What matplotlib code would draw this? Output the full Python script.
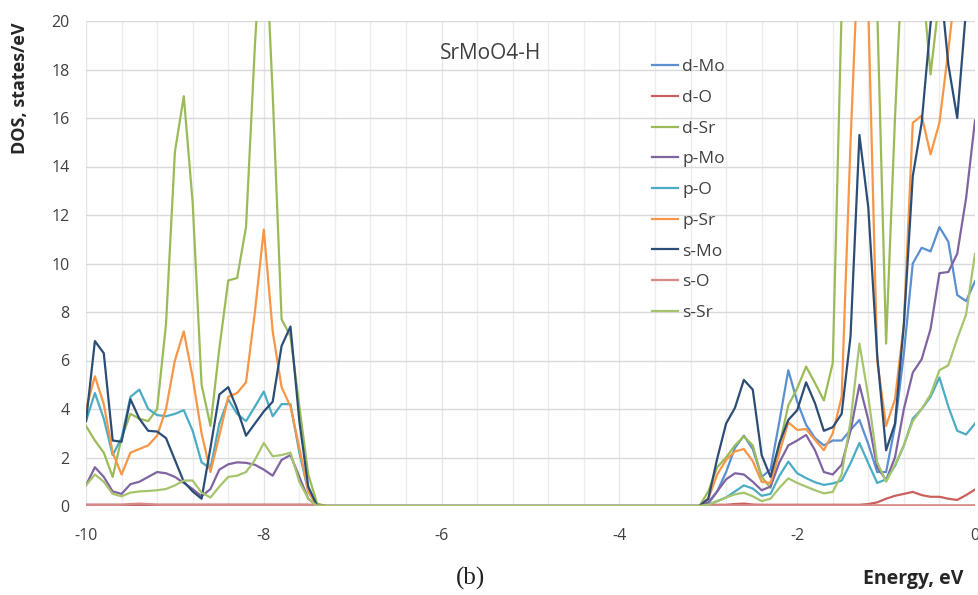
import numpy as np
import matplotlib
matplotlib.use("Agg")
import matplotlib.pyplot as plt

# Energy grid (eV), 0.1 eV step
energy = np.round(np.arange(-10.0, 0.0001, 0.1), 1)

GAP = [0.0] * 42  # -7.3 ... -3.2 eV : no states

# valence part: -10.0 ... -7.4 eV (27 values); conduction part: -3.1 ... 0.0 eV (32 values)
d_Mo_v = [0.0] * 27
d_Mo_c = [0.0, 0.1, 0.6, 1.4, 2.4, 2.9, 2.35, 1.2, 1.5, 3.5, 5.6, 4.3, 3.35, 2.8, 2.5, 2.7,
          2.7, 3.14, 3.55, 2.55, 1.4, 1.4, 3.3, 6.3, 10.0, 10.65, 10.5, 11.5, 10.9, 8.7, 8.45, 9.27]

d_O_v = [0.05] * 27
d_O_c = [0.0, 0.05, 0.05, 0.05, 0.08, 0.1, 0.06, 0.05, 0.05, 0.05, 0.05, 0.05, 0.05, 0.05,
         0.05, 0.05, 0.05, 0.05, 0.05, 0.08, 0.15, 0.3, 0.42, 0.5, 0.58, 0.45, 0.38, 0.38,
         0.3, 0.25, 0.45, 0.68]

d_Sr_v = [3.3, 2.7, 2.2, 1.2, 2.8, 3.8, 3.6, 3.5, 4.0, 7.5, 14.6, 16.9, 12.5, 5.0, 3.3, 6.5,
          9.3, 9.4, 11.5, 19.0, 25.0, 17.0, 7.7, 7.0, 4.1, 1.3, 0.1]
d_Sr_c = [0.0, 0.6, 1.6, 2.0, 2.5, 2.87, 2.5, 1.2, 0.75, 2.5, 4.15, 4.85, 5.75, 5.07, 4.35,
          5.9, 20.5, 26.0, 28.0, 26.0, 20.5, 6.7, 16.0, 24.0, 26.0, 22.0, 17.8, 21.0, 27.0,
          28.0, 28.0, 28.0]

p_Mo_v = [0.85, 1.6, 1.2, 0.6, 0.5, 0.9, 1.0, 1.2, 1.4, 1.35, 1.2, 0.95, 0.7, 0.4, 0.7, 1.5,
          1.72, 1.8, 1.78, 1.7, 1.5, 1.25, 1.9, 2.1, 1.2, 0.3, 0.0]
p_Mo_c = [0.0, 0.15, 0.6, 1.1, 1.35, 1.3, 1.0, 0.65, 0.8, 1.8, 2.5, 2.7, 2.93, 2.3, 1.4, 1.3,
          1.7, 3.1, 5.0, 3.55, 1.6, 1.07, 2.0, 4.0, 5.5, 6.05, 7.3, 9.6, 9.65, 10.4, 12.7, 15.9]

p_O_v = [3.5, 4.66, 3.6, 2.1, 2.8, 4.5, 4.8, 4.0, 3.75, 3.7, 3.8, 3.95, 3.1, 1.8, 1.55, 3.4,
         4.4, 3.8, 3.5, 4.1, 4.72, 3.7, 4.2, 4.2, 2.2, 0.6, 0.0]
p_O_c = [0.0, 0.05, 0.2, 0.35, 0.6, 0.85, 0.72, 0.42, 0.5, 1.25, 1.83, 1.35, 1.15, 0.98, 0.87,
         0.93, 1.05, 1.76, 2.6, 1.76, 0.95, 1.1, 1.65, 2.5, 3.6, 4.0, 4.5, 5.3, 4.1, 3.1, 2.95, 3.4]

p_Sr_v = [4.0, 5.35, 4.2, 2.2, 1.3, 2.2, 2.35, 2.5, 2.9, 4.0, 6.0, 7.2, 5.3, 3.0, 1.4, 2.9,
          4.5, 4.66, 5.1, 8.0, 11.4, 7.2, 4.9, 4.1, 2.4, 0.6, 0.0]
p_Sr_c = [0.0, 0.3, 1.3, 1.9, 2.25, 2.35, 1.85, 1.0, 0.95, 2.2, 3.45, 3.14, 3.17, 2.73, 2.3,
          3.0, 4.5, 15.0, 24.0, 20.5, 6.0, 3.3, 4.4, 7.5, 15.8, 16.1, 14.5, 15.8, 18.8, 22.0,
          25.0, 27.0]

s_Mo_v = [3.5, 6.8, 6.3, 2.7, 2.65, 4.4, 3.6, 3.1, 3.07, 2.8, 1.9, 1.0, 0.6, 0.3, 2.4, 4.6,
          4.9, 4.0, 2.9, 3.4, 3.9, 4.3, 6.6, 7.4, 3.5, 0.8, 0.0]
s_Mo_c = [0.0, 0.3, 1.95, 3.4, 4.05, 5.2, 4.8, 2.1, 1.2, 2.6, 3.55, 3.95, 5.1, 4.24, 3.1, 3.25,
          3.8, 7.0, 15.3, 12.3, 6.2, 2.3, 3.4, 7.5, 13.6, 15.8, 19.9, 22.0, 18.2, 16.0, 20.5, 25.0]

s_O_v = [0.05, 0.05, 0.05, 0.05, 0.05, 0.08, 0.1, 0.08, 0.05, 0.05, 0.05, 0.05, 0.05, 0.05,
         0.05, 0.05, 0.05, 0.05, 0.05, 0.05, 0.05, 0.05, 0.05, 0.05, 0.05, 0.05, 0.02]
s_O_c = [0.0] + [0.03] * 31

s_Sr_v = [0.85, 1.3, 1.0, 0.5, 0.4, 0.55, 0.6, 0.62, 0.65, 0.7, 0.85, 1.05, 1.05, 0.55, 0.35,
          0.8, 1.2, 1.25, 1.4, 1.9, 2.6, 2.05, 2.1, 2.2, 1.0, 0.3, 0.0]
s_Sr_c = [0.0, 0.05, 0.2, 0.35, 0.48, 0.55, 0.4, 0.2, 0.3, 0.75, 1.14, 0.95, 0.8, 0.65, 0.52,
          0.58, 1.3, 3.5, 6.7, 4.5, 1.8, 1.0, 1.7, 2.5, 3.5, 4.0, 4.6, 5.6, 5.8, 6.9, 7.9, 10.4]

labels = ["d-Mo", "d-O", "d-Sr", "p-Mo", "p-O", "p-Sr", "s-Mo", "s-O", "s-Sr"]
series = [
    d_Mo_v + GAP + d_Mo_c,
    d_O_v + GAP + d_O_c,
    d_Sr_v + GAP + d_Sr_c,
    p_Mo_v + GAP + p_Mo_c,
    p_O_v + GAP + p_O_c,
    p_Sr_v + GAP + p_Sr_c,
    s_Mo_v + GAP + s_Mo_c,
    s_O_v + GAP + s_O_c,
    s_Sr_v + GAP + s_Sr_c,
]
colors = ["#5b8fd0", "#c9605c", "#9bbb59", "#8064a2", "#4bacc6", "#f79646",
          "#2c4d75", "#d68a88", "#a6c46c"]

x_ticks = [-10, -8, -6, -4, -2, 0]
y_ticks = list(range(0, 21, 2))

plt.rcParams["font.family"] = ["Open Sans", "DejaVu Sans"]

fig = plt.figure(figsize=(9.79, 5.95), dpi=100)
ax = fig.add_axes([86 / 979, 1 - 506 / 595, (975 - 86) / 979, (506 - 21) / 595])

for vals, lab, col in zip(series, labels, colors):
    ax.plot(energy, vals, color=col, lw=1.6, label=lab, solid_joinstyle="round")

ax.set_xlim(-10, 0)
ax.set_ylim(0, 20)
ax.set_xticks(x_ticks)
ax.set_xticklabels([str(t) for t in x_ticks])
ax.set_yticks(y_ticks)
ax.set_xticks(np.round(np.arange(-10, 0.001, 0.4), 1), minor=True)
ax.grid(True, which="major", axis="y", color="#d9d9d9", lw=1.0)
ax.grid(True, which="minor", axis="x", color="#ececec", lw=1.0)
ax.grid(True, which="major", axis="x", color="#e6e6e6", lw=1.0)
ax.set_axisbelow(True)
for s in ax.spines.values():
    s.set_visible(False)
ax.tick_params(axis="both", which="both", length=0, labelsize=11.5, colors="#404040")
ax.tick_params(axis="x", pad=16)
ax.tick_params(axis="y", pad=12)

ax.text(0.455, 0.955, "SrMoO4-H", transform=ax.transAxes, ha="center", va="top",
        fontsize=15, color="#404040")

leg = ax.legend(loc="upper left", bbox_to_anchor=(652 / 979, 1 - 59 / 595),
                bbox_transform=fig.transFigure, frameon=False, fontsize=12.5,
                labelspacing=0.84, handlelength=1.5, handletextpad=0.25,
                borderpad=0, borderaxespad=0)
for t in leg.get_texts():
    t.set_color("#404040")

fig.text(20 / 979, 1 - 88 / 595, "DOS, states/eV", rotation=90, ha="center", va="center",
         fontsize=13, fontweight="bold", color="#262626")
fig.text(963 / 979, 1 - 579 / 595, "Energy, eV", ha="right", va="center",
         fontsize=14, fontweight="bold", color="#262626")
fig.text(471 / 979, 1 - 578 / 595, "(b)", ha="center", va="center",
         fontsize=18, family=["Liberation Serif", "DejaVu Serif"], color="#222222")

fig.savefig("out.png", dpi=100)
